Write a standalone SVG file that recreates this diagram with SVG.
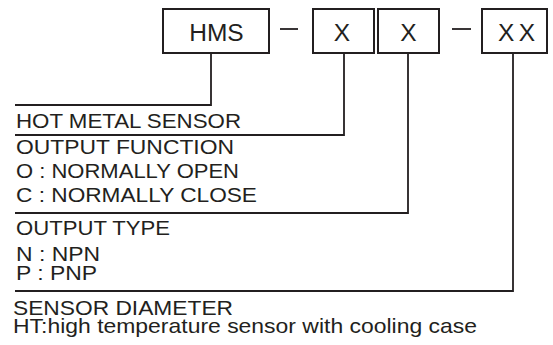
<svg xmlns="http://www.w3.org/2000/svg" width="553" height="345" viewBox="0 0 553 345">
<style>
.box{fill:#fff;stroke:#231f20;stroke-width:2}
.ln{fill:none;stroke:#231f20;stroke-width:1.8}
.bt{font-family:"Liberation Sans",Arial,sans-serif;font-size:24.5px;fill:#231f20;text-anchor:middle}
.t{font-family:"Liberation Sans",Arial,sans-serif;font-size:21px;fill:#231f20}
</style>
<rect width="553" height="345" fill="#fff"/>
<g id="connectors">
<path class="ln" d="M211 53V105H15"/>
<path class="ln" d="M344 53V135H15"/>
<path class="ln" d="M408 53V213H15"/>
<path class="ln" d="M513 53V291H15"/>
<path class="ln" d="M280 29H298"/>
<path class="ln" d="M452 29H471"/>
</g>
<g id="node-hms"><rect class="box" x="163" y="9" width="106" height="44"/><text class="bt" x="216.5" y="41">HMS</text></g>
<g id="node-x1"><rect class="box" x="313" y="9" width="61" height="44"/><text class="bt" x="342" y="41">X</text></g>
<g id="node-x2"><rect class="box" x="378" y="9" width="61" height="44"/><text class="bt" x="408.5" y="41">X</text></g>
<g id="node-xx"><rect class="box" x="482" y="9" width="65" height="44"/><text class="bt" x="516.5" y="41" textLength="37" lengthAdjust="spacing">XX</text></g>
<g id="labels">
<text class="t" x="16" y="128" textLength="225" lengthAdjust="spacingAndGlyphs">HOT METAL SENSOR</text>
<text class="t" x="16" y="154" textLength="218" lengthAdjust="spacingAndGlyphs">OUTPUT FUNCTION</text>
<text class="t" x="16" y="178" textLength="223" lengthAdjust="spacingAndGlyphs">O : NORMALLY OPEN</text>
<text class="t" x="16" y="202" textLength="241" lengthAdjust="spacingAndGlyphs">C : NORMALLY CLOSE</text>
<text class="t" x="16" y="235" textLength="154" lengthAdjust="spacingAndGlyphs">OUTPUT TYPE</text>
<text class="t" x="16" y="261" textLength="84" lengthAdjust="spacingAndGlyphs">N : NPN</text>
<text class="t" x="16" y="280" textLength="81" lengthAdjust="spacingAndGlyphs">P : PNP</text>
<text class="t" x="13" y="315" textLength="220" lengthAdjust="spacingAndGlyphs">SENSOR DIAMETER</text>
<text class="t" x="13" y="333" textLength="464" lengthAdjust="spacingAndGlyphs">HT:high temperature sensor with cooling case</text>
</g>
</svg>
